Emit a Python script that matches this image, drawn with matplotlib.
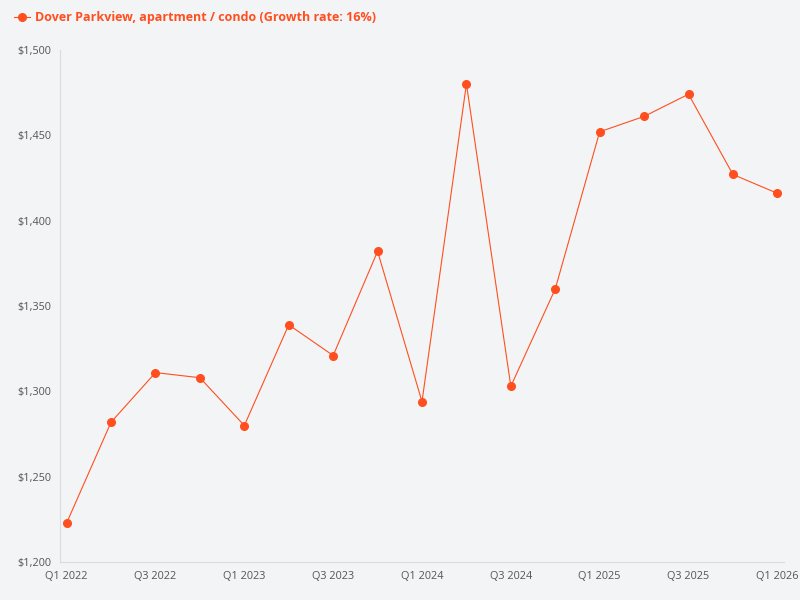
import matplotlib
matplotlib.use("Agg")
import matplotlib.pyplot as plt
from matplotlib.ticker import FuncFormatter

quarters = ["Q1 2022","Q2 2022","Q3 2022","Q4 2022","Q1 2023","Q2 2023","Q3 2023","Q4 2023",
            "Q1 2024","Q2 2024","Q3 2024","Q4 2024","Q1 2025","Q2 2025","Q3 2025","Q4 2025","Q1 2026"]
values = [1223,1282,1311,1308,1280,1339,1321,1382,1294,1480,1303,1360,1452,1461,1474,1427,1416]
series_label = "Dover Parkview, apartment / condo (Growth rate: 16%)"

plt.rcParams['font.family'] = ['Open Sans', 'DejaVu Sans']
bg = "#f3f4f6"
color = "#ff4f1f"
fig = plt.figure(figsize=(8, 6), dpi=100, facecolor=bg)
ax = fig.add_axes([0.075, 0.063, 0.905, 0.854], facecolor=bg)
x = list(range(len(quarters)))
ax.plot(x, values, color=color, lw=0.8, marker='o', ms=5.5, label=series_label)
ax.set_xlim(-0.15, len(quarters) - 0.85)
ax.set_ylim(1200, 1500)
ax.set_yticks(range(1200, 1501, 50))
ax.yaxis.set_major_formatter(FuncFormatter(lambda v, p: f"${v:,.0f}"))
ax.set_xticks(x[::2])
ax.set_xticklabels(quarters[::2])
for s in ["top", "right"]:
    ax.spines[s].set_visible(False)
ax.spines["left"].set_color("#d8dce3")
ax.spines["bottom"].set_color("#d8dce3")
ax.tick_params(length=0, labelsize=7.8, colors="#555555", pad=6)
leg = fig.legend(loc="upper left", bbox_to_anchor=(0.003, 1.0), frameon=False, fontsize=9,
                 handlelength=1.3, handletextpad=0.4)
for t in leg.get_texts():
    t.set_color(color)
    t.set_fontweight("bold")
fig.savefig("out.png", dpi=100, facecolor=bg)
